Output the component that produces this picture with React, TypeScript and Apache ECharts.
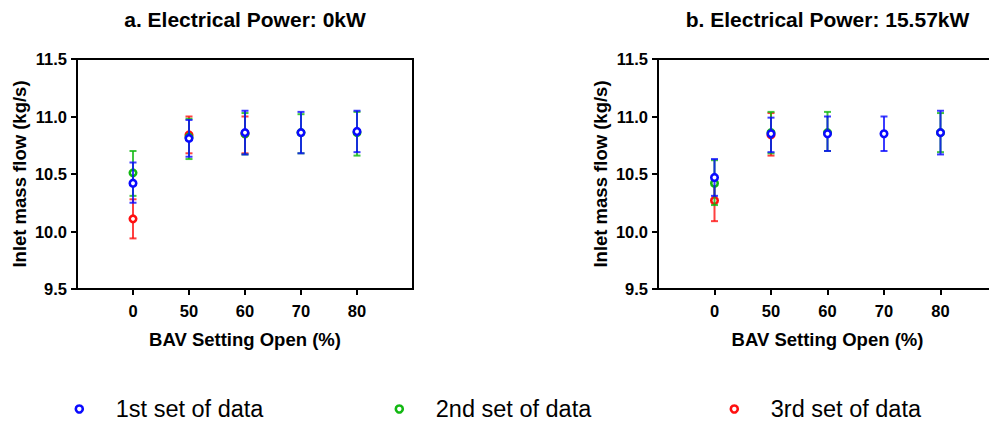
import React, { useEffect, useRef } from "react";
import * as echarts from "echarts";

const categories = ["0", "50", "60", "70", "80"];
const setNames = ["1st set of data", "2nd set of data", "3rd set of data"];
const setColors = ["#0a0aff", "#12b812", "#ff1010"];

// Panel a: Electrical Power 0kW
const aSet1Mean = [10.42, 10.81, 10.86, 10.86, 10.87];
const aSet1Upper = [10.6, 10.97, 11.05, 11.04, 11.05];
const aSet1Lower = [10.25, 10.65, 10.67, 10.68, 10.69];
const aSet2Mean = [10.51, 10.82, 10.85, 10.86, 10.86];
const aSet2Upper = [10.7, 10.98, 11.03, 11.02, 11.04];
const aSet2Lower = [10.31, 10.63, 10.67, 10.68, 10.66];
const aSet3Mean = [10.11, 10.84, 10.85, null, null];
const aSet3Upper = [10.28, 11.0, 11.0, null, null];
const aSet3Lower = [9.94, 10.68, 10.68, null, null];

// Panel b: Electrical Power 15.57kW
const bSet1Mean = [10.47, 10.85, 10.85, 10.85, 10.86];
const bSet1Upper = [10.63, 10.99, 11.0, 11.0, 11.05];
const bSet1Lower = [10.31, 10.69, 10.7, 10.7, 10.67];
const bSet2Mean = [10.42, 10.86, 10.86, null, 10.86];
const bSet2Upper = [10.62, 11.04, 11.04, null, 11.03];
const bSet2Lower = [10.23, 10.68, 10.7, null, 10.69];
const bSet3Mean = [10.27, 10.84, null, null, null];
const bSet3Upper = [10.44, 11.03, null, null, null];
const bSet3Lower = [10.09, 10.66, null, null, null];

const panelTitles = ["a. Electrical Power: 0kW", "b. Electrical Power: 15.57kW"];
const yTitle = "Inlet mass flow (kg/s)";
const xTitle = "BAV Setting Open (%)";

const panels = [
  {
    means: [aSet1Mean, aSet2Mean, aSet3Mean],
    uppers: [aSet1Upper, aSet2Upper, aSet3Upper],
    lowers: [aSet1Lower, aSet2Lower, aSet3Lower],
  },
  {
    means: [bSet1Mean, bSet2Mean, bSet3Mean],
    uppers: [bSet1Upper, bSet2Upper, bSet3Upper],
    lowers: [bSet1Lower, bSet2Lower, bSet3Lower],
  },
];

const FONT = "'Liberation Sans', Arial, Helvetica, sans-serif";

export default function App() {
  const ref = useRef<HTMLDivElement>(null);
  useEffect(() => {
    if (!ref.current) return;
    const chart = echarts.init(ref.current, null, { renderer: "svg" });
    const axisData = ["", ...categories, ""];
    const grids = [
      { left: 77, top: 59, width: 336, height: 230 },
      { left: 658, top: 59, width: 339, height: 230 },
    ];
    const series: any[] = [];
    panels.forEach((p, pi) => {
      // draw 3rd set first, blue on top
      [2, 1, 0].forEach((si, order) => {
        const color = setColors[si];
        const bars: any[] = [];
        const pts: any[] = [];
        categories.forEach((c, ci) => {
          const m = p.means[si][ci];
          if (m === null || m === undefined) return;
          pts.push([ci + 1, m]);
          bars.push([ci + 1, p.lowers[si][ci], p.uppers[si][ci]]);
        });
        series.push({
          type: "custom",
          name: setNames[si] + " error",
          xAxisIndex: pi,
          yAxisIndex: pi,
          z: 2 + order * 2,
          data: bars,
          renderItem: (params: any, api: any) => {
            const x = api.value(0);
            const p1 = api.coord([x, api.value(1)]);
            const p2 = api.coord([x, api.value(2)]);
            const hw = 3.5;
            const style = { stroke: color, lineWidth: 2, opacity: 0.8 };
            return {
              type: "group",
              children: [
                { type: "line", shape: { x1: p1[0], y1: p1[1], x2: p2[0], y2: p2[1] }, style },
                { type: "line", shape: { x1: p1[0] - hw, y1: p1[1], x2: p1[0] + hw, y2: p1[1] }, style },
                { type: "line", shape: { x1: p2[0] - hw, y1: p2[1], x2: p2[0] + hw, y2: p2[1] }, style },
              ],
            };
          },
        });
        series.push({
          type: "scatter",
          name: setNames[si],
          xAxisIndex: pi,
          yAxisIndex: pi,
          z: 3 + order * 2,
          symbol: "circle",
          symbolSize: 6.5,
          itemStyle: { color: "#fff", borderColor: color, borderWidth: 2.6, opacity: 1 },
          data: pts,
        });
      });
    });

    const legendLeft = [74.5, 394.5, 729.5];
    const option: any = {
      animation: false,
      textStyle: { fontFamily: FONT },
      title: panelTitles.map((t, i) => ({
        text: t,
        left: grids[i].left + grids[i].width / 2,
        top: 9,
        textAlign: "center",
        padding: 0,
        textStyle: { fontSize: 21, fontWeight: "bold", color: "#000", fontFamily: FONT },
      })),
      grid: grids.map((g) => ({ ...g, show: true, borderColor: "#000", borderWidth: 2, backgroundColor: "transparent" })),
      xAxis: grids.map((g, i) => ({
        type: "category",
        gridIndex: i,
        data: axisData,
        boundaryGap: false,
        name: xTitle,
        nameLocation: "middle",
        nameGap: 41,
        nameTextStyle: { fontSize: 18.5, fontWeight: "bold", color: "#000", fontFamily: FONT },
        axisLine: { lineStyle: { color: "#000", width: 2 } },
        axisTick: {
          show: true,
          length: 6,
          lineStyle: { color: "#000", width: 2 },
          interval: (idx: number) => idx > 0 && idx < axisData.length - 1,
        },
        axisLabel: { interval: 0, fontSize: 16.5, fontWeight: "bold", color: "#000", margin: 13, fontFamily: FONT },
        splitLine: { show: false },
      })),
      yAxis: grids.map((g, i) => ({
        type: "value",
        gridIndex: i,
        min: 9.5,
        max: 11.5,
        interval: 0.5,
        name: yTitle,
        nameLocation: "middle",
        nameGap: 48,
        nameTextStyle: { fontSize: 18.5, fontWeight: "bold", color: "#000", fontFamily: FONT },
        axisLine: { show: true, lineStyle: { color: "#000", width: 2 } },
        axisTick: { show: true, length: 6, lineStyle: { color: "#000", width: 2 } },
        axisLabel: {
          fontSize: 16.5,
          fontWeight: "bold",
          color: "#000",
          margin: 10,
          fontFamily: FONT,
          formatter: (v: number) => v.toFixed(1),
        },
        splitLine: { show: false },
      })),
      legend: setNames.map((n, i) => ({
        data: [n],
        left: legendLeft[i],
        top: 397,
        padding: 0,
        itemWidth: 7,
        itemHeight: 7,
        selectedMode: false,
        itemStyle: { color: "#fff", borderColor: setColors[i], borderWidth: 2.6 },
        textStyle: { fontSize: 23.5, lineHeight: 24, color: "#000", fontFamily: FONT, padding: [0, 0, 0, 28] },
      })),
      series,
    };
    chart.setOption(option);
    return () => chart.dispose();
  }, []);
  return (
    <div style={{ position: "fixed", left: 0, top: 0, width: 989, height: 421, overflow: "hidden", background: "#fff" }}>
      <div ref={ref} style={{ width: 1000, height: 421 }} />
    </div>
  );
}
